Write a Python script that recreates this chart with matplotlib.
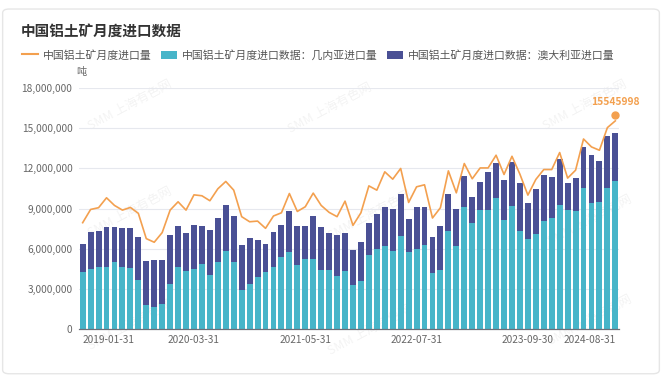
import numpy as np
import pandas as pd
import matplotlib
matplotlib.use("Agg")
import matplotlib.pyplot as plt
from matplotlib.lines import Line2D
from matplotlib.patches import Patch, FancyBboxPatch

plt.rcParams['font.family'] = ['Noto Sans CJK SC', 'DejaVu Sans']

# monthly data, 2019-01 .. 2024-08 (unit: million tonnes)
months = pd.date_range('2019-01-31', periods=68, freq='ME').strftime('%Y-%m-%d').tolist()

guinea = [4.27, 4.47, 4.66, 4.64, 5.04, 4.64, 4.57, 3.67, 1.79, 1.66,
          1.89, 3.35, 4.62, 4.32, 4.47, 4.86, 4.04, 5.04, 5.83, 5.01,
          2.88, 3.37, 3.92, 4.29, 4.66, 5.38, 5.73, 4.76, 5.24, 5.26,
          4.37, 4.37, 3.97, 4.34, 3.25, 3.57, 5.56, 6.00, 6.23, 5.83,
          6.97, 5.76, 5.96, 6.28, 4.17, 4.42, 7.30, 6.23, 9.13, 7.92,
          8.86, 8.88, 9.78, 8.14, 9.18, 7.32, 6.72, 7.07, 8.04, 8.26,
          9.26, 8.88, 8.83, 10.50, 9.38, 9.50, 10.50, 11.04]

australia = [2.06, 2.78, 2.66, 2.98, 2.58, 2.88, 3.00, 3.20, 3.30, 3.50,
             3.25, 3.70, 3.05, 2.85, 3.32, 2.86, 3.33, 3.25, 3.40, 3.43,
             3.37, 3.45, 2.71, 2.04, 2.56, 2.36, 3.10, 2.93, 2.43, 3.20,
             3.25, 2.78, 3.03, 2.86, 2.66, 2.91, 2.36, 2.56, 2.90, 3.13,
             3.08, 2.43, 3.12, 2.80, 2.68, 3.30, 2.82, 2.70, 2.31, 1.96,
             2.13, 2.83, 2.63, 2.98, 3.30, 3.62, 2.66, 3.40, 3.45, 3.10,
             3.44, 1.99, 2.46, 3.10, 3.60, 3.06, 3.89, 3.63]

total = [7.94, 8.93, 9.06, 9.80, 9.23, 8.88, 9.08, 8.64, 6.75, 6.48,
         7.20, 8.88, 9.50, 8.88, 10.02, 9.95, 9.58, 10.47, 11.02, 10.37,
         8.39, 8.01, 8.06, 7.52, 8.44, 8.68, 10.12, 8.78, 9.13, 10.15,
         9.23, 8.71, 8.39, 9.55, 7.74, 8.68, 10.69, 10.37, 11.74, 11.19,
         11.99, 9.45, 10.62, 10.77, 8.29, 9.06, 11.81, 10.17, 12.36, 11.22,
         12.03, 12.03, 12.98, 11.54, 12.90, 11.56, 10.00, 11.17, 11.91, 11.91,
         13.18, 11.27, 11.86, 14.19, 13.60, 13.35, 15.04, 15.545998]

tick_idx = [0, 14, 28, 42, 56, 67]

guinea = np.array(guinea) * 1e6
australia = np.array(australia) * 1e6
total = np.array(total) * 1e6
x = np.arange(len(months))

teal = '#47b5c9'
navy = '#4a5095'
orange = '#f3a04f'

fig = plt.figure(figsize=(6.62, 3.76), dpi=100)
fig.patches.append(FancyBboxPatch((0.004, 0.006), 0.992, 0.97, boxstyle='round,pad=0,rounding_size=0.01',
                                  transform=fig.transFigure, facecolor='white', edgecolor='#e6e6e6',
                                  linewidth=1, zorder=-10))

ax = fig.add_axes([78.7 / 662, 47 / 376, 540.6 / 662, 241 / 376])
ax.set_facecolor('none')

ax.bar(x, guinea, width=0.74, color=teal, zorder=3)
ax.bar(x, australia, width=0.74, bottom=guinea, color=navy, zorder=3)
ax.plot(x, total, color=orange, linewidth=1.2, zorder=4)

# end marker (drawn slightly above the last point) and its label
ax.plot([x[-1]], [total[-1]], marker='o', markersize=5, color=orange, zorder=5,
        transform=ax.transData + matplotlib.transforms.ScaledTranslation(0, 4 / 72, fig.dpi_scale_trans))
ax.annotate(f'{int(round(total[-1]))}', xy=(x[-1], total[-1]), xytext=(0, 10), textcoords='offset points',
            ha='center', va='bottom', color=orange, fontsize=7.4, fontweight='bold', zorder=6)

ax.set_xlim(-0.5, len(months) - 0.5)
ax.set_ylim(0, 18e6)
ax.set_yticks(np.arange(0, 18e6 + 1, 3e6))
ax.set_yticklabels([f'{int(v):,}' for v in np.arange(0, 18e6 + 1, 3e6)])
ax.grid(axis='y', color='#e6e8ee', linewidth=0.8, zorder=0)
ax.set_axisbelow(True)

ax.set_xticks(tick_idx)
labels = ax.set_xticklabels([months[i] for i in tick_idx])
labels[0].set_ha('left')
labels[-1].set_ha('right')

ax.tick_params(axis='both', length=0, labelsize=7.3, labelcolor='#666666')
ax.tick_params(axis='x', pad=4.5)
ax.tick_params(axis='y', pad=4.5)
for s in ['top', 'right', 'left']:
    ax.spines[s].set_visible(False)
ax.spines['bottom'].set_color('#6e7079')
ax.spines['bottom'].set_linewidth(0.9)
ax.spines['bottom'].set_zorder(5)

# unit
fig.text(81 / 662, 1 - 72 / 376, '吨', ha='center', va='center', fontsize=7.3, color='#666666')

# title
fig.text(21 / 662, 1 - 32 / 376, '中国铝土矿月度进口数据', ha='left', va='center',
         fontsize=10.5, fontweight='bold', color='#333333')

# legend
handles = [Line2D([], [], color=orange, linewidth=1.5),
           Patch(facecolor=teal, edgecolor='none'),
           Patch(facecolor=navy, edgecolor='none')]
names = ['中国铝土矿月度进口量', '中国铝土矿月度进口数据：几内亚进口量', '中国铝土矿月度进口数据：澳大利亚进口量']
fig.legend(handles, names, loc='center left', bbox_to_anchor=(22 / 662, 1 - 55 / 376), ncol=3,
           frameon=False, fontsize=7.8, handlelength=1.5, handleheight=0.8, handletextpad=0.4,
           columnspacing=0.9, borderaxespad=0, borderpad=0, labelcolor='#555555')

# watermark
for (wx, wy) in [(130, 105), (330, 108), (585, 105), (130, 212), (370, 215), (590, 220),
                 (130, 325), (370, 330), (590, 320)]:
    fig.text(wx / 662, 1 - wy / 376, 'SMM 上海有色网', rotation=28, ha='center', va='center',
             fontsize=9, color='#000000', alpha=0.05, zorder=-5)

fig.savefig('out.png', dpi=100)
